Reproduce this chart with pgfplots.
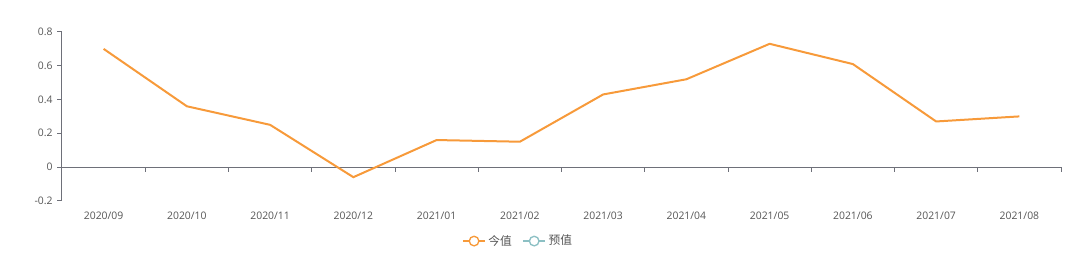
\documentclass[border=0pt]{standalone}
\usepackage{pgfplots}
\pgfplotsset{compat=1.18}
\usepackage{fontspec}
\setmainfont{Open Sans}
\newfontfamily\cjk{Noto Sans CJK SC}
\definecolor{lineor}{HTML}{F79A3A}
\definecolor{tealc}{HTML}{8CC0C4}
\definecolor{axgray}{HTML}{6E7079}
\definecolor{txtgray}{HTML}{555555}
\begin{document}
\begin{tikzpicture}
\path[use as bounding box] (-46.5pt,-42.9pt) rectangle (763.5pt,150.6pt);
\begin{axis}[
  at={(0,0)}, anchor=south west,
  scale only axis, width=749.25pt, height=126.6pt,
  xmin=-0.5, xmax=11.5, ymin=-0.2, ymax=0.8,
  clip=false,
  axis y line*=left, axis x line*=bottom,
  x axis line style={draw=none},
  y axis line style={axgray, line width=0.75pt, -},
  tick align=outside,
  major tick length=3.5pt,
  xtick={0,...,11},
  xticklabels={2020/09,2020/10,2020/11,2020/12,2021/01,2021/02,2021/03,2021/04,2021/05,2021/06,2021/07,2021/08},
  xtick style={draw=none},
  ytick={-0.2,0,0.2,0.4,0.6,0.8},
  ytick style={axgray, line width=0.75pt},
  tick label style={font=\fontsize{7.8}{9}\selectfont, text=txtgray},
  xticklabel style={yshift=-1pt},
  /pgf/number format/assume math mode=true,
  legend columns=2,
  legend style={at={(0.457,-0.2385)}, anchor=center, draw=none, fill=none,
    font=\fontsize{8.8}{10}\selectfont\cjk, text=txtgray,
    /tikz/every even column/.append style={column sep=6pt}},
  legend image code/.code={
    \draw[#1] (0pt,0pt) -- (16.5pt,0pt);
    \draw[#1, fill=white] (8.25pt,0pt) circle (3.6pt);
  },
]
\draw[axgray, line width=0.75pt] (axis cs:-0.5,0) -- (axis cs:11.5,0);
\pgfplotsinvokeforeach{0,...,11}{
  \draw[axgray, line width=0.75pt] (axis cs:#1.5,0) -- ([yshift=-3.5pt]axis cs:#1.5,0);
}
\addplot[lineor, line width=1.5pt, no marks, forget plot] coordinates {
  (0,0.70) (1,0.36) (2,0.25) (3,-0.06) (4,0.16) (5,0.15)
  (6,0.43) (7,0.52) (8,0.73) (9,0.61) (10,0.27) (11,0.30)
};
\addlegendimage{lineor, line width=1pt}
\addlegendentry{今值}
\addlegendimage{tealc, line width=1pt}
\addlegendentry{预值}
\end{axis}
\end{tikzpicture}
\end{document}
